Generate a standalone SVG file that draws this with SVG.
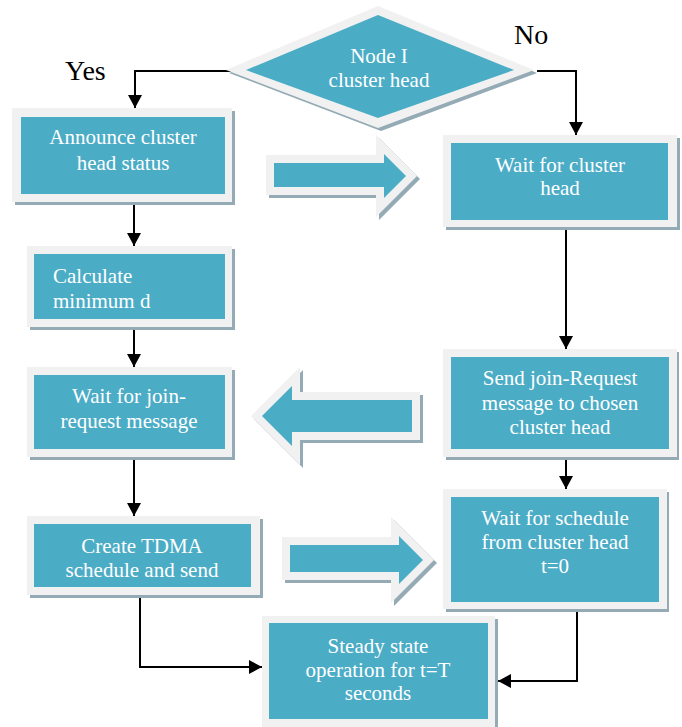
<svg xmlns="http://www.w3.org/2000/svg" width="682" height="727" viewBox="0 0 682 727">
<style>
.sh{fill:#94abb5}
.fr{fill:#f1f1f1}
.in{fill:#4bacc6}
.t{font-family:"Liberation Serif","Times New Roman",serif;font-size:21px;fill:#ffffff;text-anchor:middle}
.tl{font-family:"Liberation Serif","Times New Roman",serif;font-size:21px;fill:#ffffff}
.lb{font-family:"Liberation Serif","Times New Roman",serif;font-size:28px;fill:#000000}
.c{fill:none;stroke:#000000;stroke-width:2}
</style>
<defs>
<marker id="ah" markerUnits="userSpaceOnUse" markerWidth="14" markerHeight="14" refX="13" refY="7" orient="auto">
<path d="M0,0 L13,7 L0,14 z" fill="#000000"/>
</marker>
</defs>
<rect width="682" height="727" fill="#ffffff"/>

<g id="blockarrows">
<g id="arrow-right-top">
<polygon class="sh" points="269,158 379,158 379,138 420,179 379,220 379,198 269,198"/>
<polygon class="fr" points="266,155 376,155 376,135 417,176 376,217 376,195 266,195"/>
<polygon class="in" points="274,163 384,163 384,154 406,176 384,198 384,187 274,187"/>
</g>
<g id="arrow-left-mid">
<polygon class="sh" points="254,419 303,370 303,395 423,395 423,443 303,443 303,468"/>
<polygon class="fr" points="251,416 300,367 300,392 420,392 420,440 300,440 300,465"/>
<polygon class="in" points="262,416 292,386 292,400 412,400 412,432 292,432 292,446"/>
</g>
<g id="arrow-right-bottom">
<polygon class="sh" points="285,540 394,540 394,520 437,563 394,606 394,583 285,583"/>
<polygon class="fr" points="282,537 391,537 391,517 434,560 391,603 391,580 282,580"/>
<polygon class="in" points="290,545 399,545 399,536 423,560 399,584 399,572 290,572"/>
</g>
</g>

<g id="connectors">
<polyline class="c" points="233,71 135,71 135,108" marker-end="url(#ah)"/>
<polyline class="c" points="537,71 576,71 576,135" marker-end="url(#ah)"/>
<line class="c" x1="134" y1="205" x2="134" y2="246" marker-end="url(#ah)"/>
<line class="c" x1="134" y1="330" x2="134" y2="367" marker-end="url(#ah)"/>
<line class="c" x1="134" y1="460" x2="134" y2="516" marker-end="url(#ah)"/>
<line class="c" x1="566" y1="230" x2="566" y2="349" marker-end="url(#ah)"/>
<line class="c" x1="566" y1="460" x2="566" y2="489" marker-end="url(#ah)"/>
<polyline class="c" points="140,598 140,667 262,667" marker-end="url(#ah)"/>
<polyline class="c" points="577,612 577,681 498,681" marker-end="url(#ah)"/>
</g>

<g id="decision">
<polygon class="sh" points="381,9 537,73 381,131 229,73"/>
<polygon class="fr" points="378,6 534,70 378,128 226,70"/>
<polygon class="in" points="378,15 514,70 378,118 246,70"/>
<text class="t" x="379" y="63">Node I</text>
<text class="t" x="379" y="87">cluster head</text>
</g>
<text class="lb" x="65" y="80">Yes</text>
<text class="lb" x="514" y="44">No</text>

<g id="announce">
<rect class="sh" x="15" y="111" width="220" height="94"/>
<rect class="fr" x="12" y="108" width="220" height="94"/>
<rect class="in" x="21" y="117" width="204" height="77"/>
<text class="t" x="123" y="144">Announce cluster</text>
<text class="t" x="123" y="170">head status</text>
</g>

<g id="calculate">
<rect class="sh" x="30" y="249" width="205" height="81"/>
<rect class="fr" x="27" y="246" width="205" height="81"/>
<rect class="in" x="34" y="254" width="191" height="65"/>
<text class="tl" x="53" y="283">Calculate</text>
<text class="tl" x="53" y="308">minimum d</text>
</g>

<g id="waitjoin">
<rect class="sh" x="30" y="370" width="205" height="90"/>
<rect class="fr" x="27" y="367" width="205" height="90"/>
<rect class="in" x="34" y="375" width="191" height="74"/>
<text class="t" x="129" y="403">Wait for join-</text>
<text class="t" x="129" y="428">request  message</text>
</g>

<g id="tdma">
<rect class="sh" x="30" y="519" width="233" height="79"/>
<rect class="fr" x="27" y="516" width="233" height="79"/>
<rect class="in" x="34" y="524" width="217" height="63"/>
<text class="t" x="142" y="553">Create TDMA</text>
<text class="t" x="142" y="577">schedule and send</text>
</g>

<g id="waitch">
<rect class="sh" x="446" y="138" width="234" height="92"/>
<rect class="fr" x="443" y="135" width="234" height="92"/>
<rect class="in" x="451" y="143" width="217" height="77"/>
<text class="t" x="560" y="172">Wait for cluster</text>
<text class="t" x="560" y="195">head</text>
</g>

<g id="sendjoin">
<rect class="sh" x="446" y="352" width="233" height="108"/>
<rect class="fr" x="443" y="349" width="234" height="108"/>
<rect class="in" x="451" y="357" width="218" height="92"/>
<text class="t" x="560" y="385">Send join-Request</text>
<text class="t" x="560" y="410">message to chosen</text>
<text class="t" x="560" y="434">cluster head</text>
</g>

<g id="waitschedule">
<rect class="sh" x="446" y="492" width="223" height="120"/>
<rect class="fr" x="443" y="489" width="224" height="120"/>
<rect class="in" x="451" y="497" width="208" height="105"/>
<text class="t" x="555" y="525">Wait for schedule</text>
<text class="t" x="555" y="549">from cluster head</text>
<text class="t" x="555" y="573">t=0</text>
</g>

<g id="steady">
<rect class="sh" x="265" y="619" width="233" height="111"/>
<rect class="fr" x="262" y="616" width="233" height="114"/>
<rect class="in" x="269" y="623" width="219" height="96"/>
<text class="t" x="378" y="653">Steady state</text>
<text class="t" x="378" y="677">operation for t=T</text>
<text class="t" x="378" y="700">seconds</text>
</g>
</svg>
